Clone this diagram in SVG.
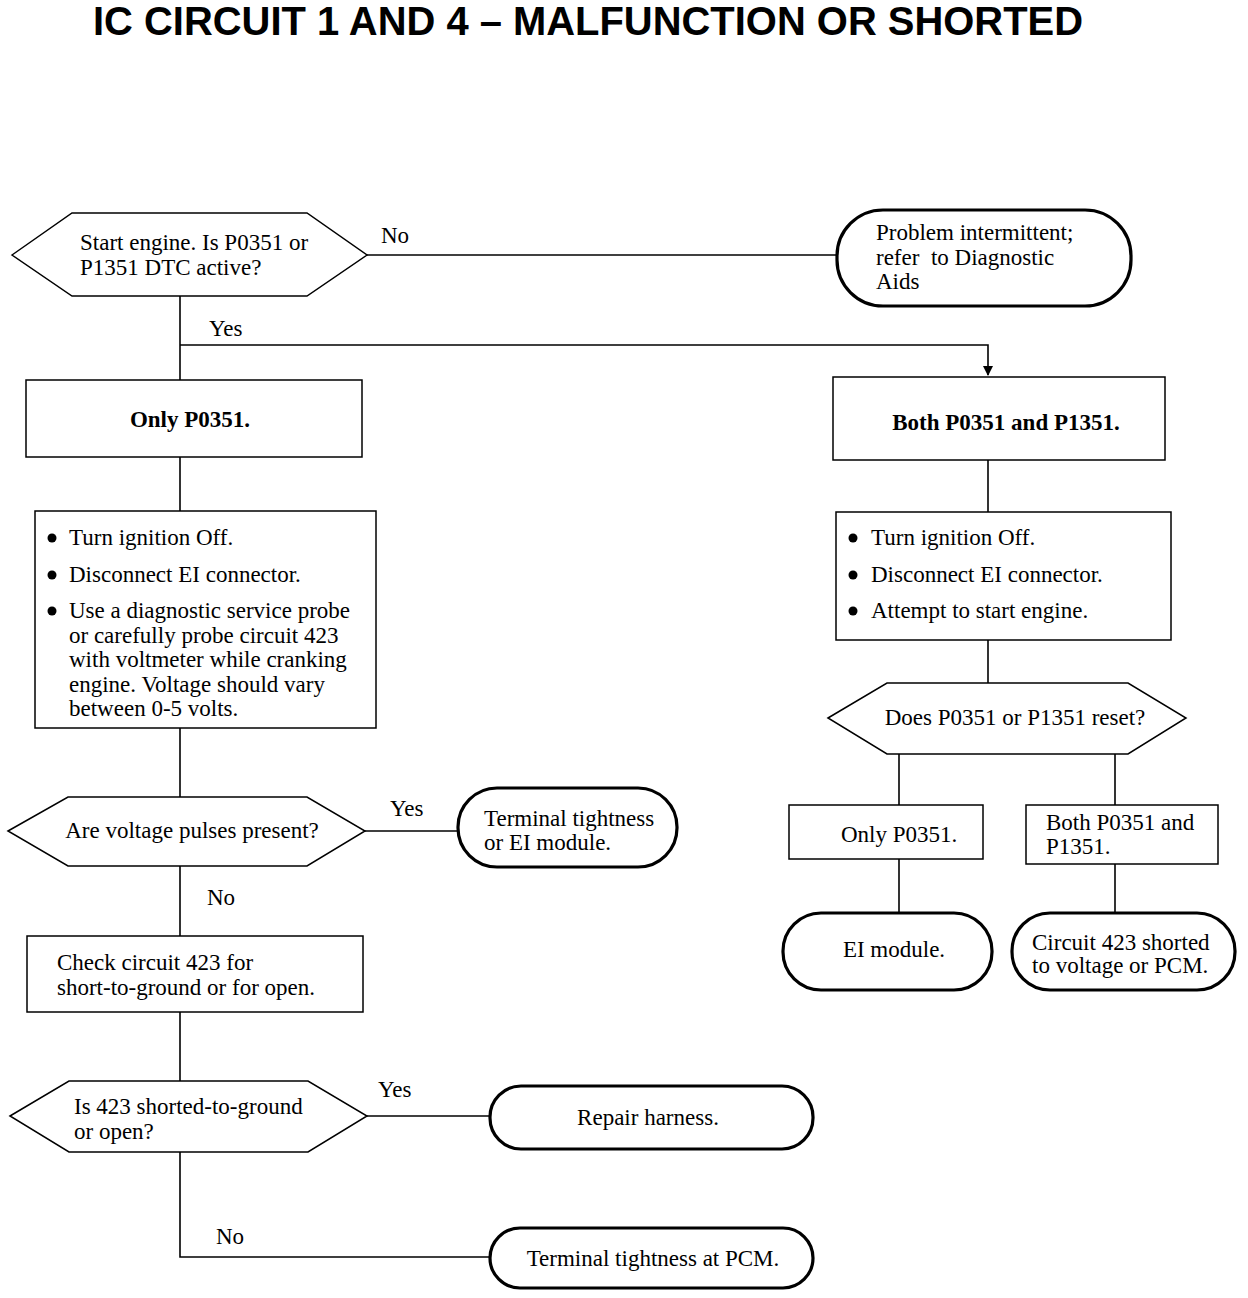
<svg xmlns="http://www.w3.org/2000/svg" width="1248" height="1298" viewBox="0 0 1248 1298">
<defs>
<style>
.t{font-family:"Liberation Serif","Times New Roman",serif;font-size:23px;fill:#000}
.b{font-weight:bold}
.m{text-anchor:middle}
.box{fill:#fff;stroke:#000;stroke-width:1.5}
.term{fill:#fff;stroke:#000;stroke-width:3.2}
.c{fill:none;stroke:#000;stroke-width:1.6}
.title{font-family:"Liberation Sans",Arial,sans-serif;font-weight:bold;font-size:40px;fill:#000}
</style>
<marker id="ah" viewBox="0 0 10 10" refX="9" refY="5" markerWidth="16" markerHeight="10" orient="auto" markerUnits="userSpaceOnUse">
<path d="M0,0 L10,5 L0,10 z" fill="#000"/>
</marker>
</defs>
<rect width="1248" height="1298" fill="#fff"/>
<text class="title" x="93" y="35" textLength="990" lengthAdjust="spacingAndGlyphs">IC CIRCUIT 1 AND 4 – MALFUNCTION OR SHORTED</text>

<g id="connectors">
<path class="c" d="M367,255 H838"/>
<path class="c" d="M180,296 V380"/>
<path class="c" d="M180,345 H988 V375" marker-end="url(#ah)"/>
<path class="c" d="M180,457 V511"/>
<path class="c" d="M180,728 V797"/>
<path class="c" d="M365,831 H458"/>
<path class="c" d="M180,866 V936"/>
<path class="c" d="M180,1012 V1081"/>
<path class="c" d="M367,1116 H490"/>
<path class="c" d="M180,1152 V1257 H490"/>
<path class="c" d="M988,460 V512"/>
<path class="c" d="M988,640 V683"/>
<path class="c" d="M899,754 V805"/>
<path class="c" d="M1115,754 V805"/>
<path class="c" d="M899,859 V913"/>
<path class="c" d="M1115,864 V913"/>
<text class="t" x="381" y="243">No</text>
<text class="t" x="209" y="336">Yes</text>
<text class="t" x="390" y="816">Yes</text>
<text class="t" x="207" y="905">No</text>
<text class="t" x="378" y="1097">Yes</text>
<text class="t" x="216" y="1244">No</text>
</g>

<g id="d1">
<polygon class="box" points="12,255 72,213 307,213 367,255 307,296 72,296"/>
<text class="t" x="80" y="250">Start engine. Is P0351 or</text>
<text class="t" x="80" y="275">P1351 DTC active?</text>
</g>

<g id="t1">
<rect class="term" x="837" y="210" width="294" height="96" rx="46"/>
<text class="t" x="876" y="240">Problem intermittent;</text>
<text class="t" x="876" y="265" xml:space="preserve" style="white-space:pre">refer  to Diagnostic</text>
<text class="t" x="876" y="289">Aids</text>
</g>

<g id="b1">
<rect class="box" x="26" y="380" width="336" height="77"/>
<text class="t b m" x="190" y="427">Only P0351.</text>
</g>

<g id="b2">
<rect class="box" x="833" y="377" width="332" height="83"/>
<text class="t b m" x="1006" y="430">Both P0351 and P1351.</text>
</g>

<g id="s1">
<rect class="box" x="35" y="511" width="341" height="217"/>
<circle cx="52" cy="538" r="4.5"/>
<circle cx="52" cy="575" r="4.5"/>
<circle cx="52" cy="611" r="4.5"/>
<text class="t" x="69" y="545">Turn ignition Off.</text>
<text class="t" x="69" y="582">Disconnect EI connector.</text>
<text class="t" x="69" y="618">Use a diagnostic service probe</text>
<text class="t" x="69" y="643">or carefully probe circuit 423</text>
<text class="t" x="69" y="667">with voltmeter while cranking</text>
<text class="t" x="69" y="692">engine. Voltage should vary</text>
<text class="t" x="69" y="716">between 0-5 volts.</text>
</g>

<g id="s2">
<rect class="box" x="836" y="512" width="335" height="128"/>
<circle cx="853" cy="538" r="4.5"/>
<circle cx="853" cy="575" r="4.5"/>
<circle cx="853" cy="611" r="4.5"/>
<text class="t" x="871" y="545">Turn ignition Off.</text>
<text class="t" x="871" y="582">Disconnect EI connector.</text>
<text class="t" x="871" y="618">Attempt to start engine.</text>
</g>

<g id="d2">
<polygon class="box" points="8,831 68,797 307,797 365,831 307,866 68,866"/>
<text class="t m" x="192" y="838">Are voltage pulses present?</text>
</g>

<g id="t2">
<rect class="term" x="458" y="788" width="219" height="79" rx="39"/>
<text class="t" x="484" y="826">Terminal tightness</text>
<text class="t" x="484" y="850">or EI module.</text>
</g>

<g id="b3">
<rect class="box" x="27" y="936" width="336" height="76"/>
<text class="t" x="57" y="970">Check circuit 423 for</text>
<text class="t" x="57" y="995">short-to-ground or for open.</text>
</g>

<g id="d3">
<polygon class="box" points="10,1116 69,1081 308,1081 367,1116 308,1152 69,1152"/>
<text class="t" x="74" y="1114">Is 423 shorted-to-ground</text>
<text class="t" x="74" y="1139">or open?</text>
</g>

<g id="t3">
<rect class="term" x="490" y="1086" width="323" height="63" rx="31"/>
<text class="t m" x="648" y="1125">Repair harness.</text>
</g>

<g id="t4">
<rect class="term" x="490" y="1228" width="323" height="60" rx="30"/>
<text class="t m" x="653" y="1266">Terminal tightness at PCM.</text>
</g>

<g id="d4">
<polygon class="box" points="828,718 887,683 1128,683 1186,718 1128,754 887,754"/>
<text class="t m" x="1015" y="725">Does P0351 or P1351 reset?</text>
</g>

<g id="b4">
<rect class="box" x="789" y="805" width="194" height="54"/>
<text class="t" x="841" y="842">Only P0351.</text>
</g>

<g id="b5">
<rect class="box" x="1026" y="805" width="192" height="59"/>
<text class="t" x="1046" y="830">Both P0351 and</text>
<text class="t" x="1046" y="854">P1351.</text>
</g>

<g id="t5">
<rect class="term" x="783" y="913" width="209" height="77" rx="38"/>
<text class="t m" x="894" y="957">EI module.</text>
</g>

<g id="t6">
<rect class="term" x="1012" y="913" width="223" height="77" rx="38"/>
<text class="t" x="1032" y="950">Circuit 423 shorted</text>
<text class="t" x="1032" y="973">to voltage or PCM.</text>
</g>
</svg>
